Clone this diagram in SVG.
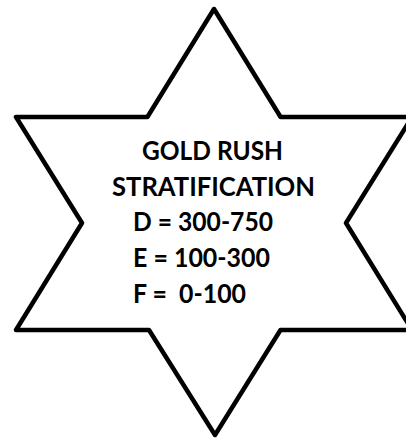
<svg xmlns="http://www.w3.org/2000/svg" width="406" height="439" viewBox="0 0 406 439">
<style>
.star{fill:#ffffff;stroke:#000000;stroke-width:4.5;stroke-linejoin:round}
.t{font-family:Lato,"Open Sans","Liberation Sans",sans-serif;font-weight:bold;font-size:26.5px;fill:#000000;white-space:pre}
</style>
<rect x="0" y="0" width="406" height="439" fill="#ffffff"/>
<g id="star">
<polygon class="star" points="214,9 280.6,117 412,117 346,223 412,330 280.5,330 215,435 149,330 16,330 82,223 16,117 147.4,117"/>
</g>
<g id="label">
<text class="t" x="142" y="160" textLength="141" lengthAdjust="spacingAndGlyphs">GOLD RUSH</text>
<text class="t" x="112" y="196" textLength="203" lengthAdjust="spacingAndGlyphs">STRATIFICATION</text>
<text class="t" x="133" y="231" textLength="140" lengthAdjust="spacingAndGlyphs">D = 300-750</text>
<text class="t" x="133" y="267" textLength="137" lengthAdjust="spacingAndGlyphs">E = 100-300</text>
<text class="t" x="133" y="303" textLength="113" lengthAdjust="spacingAndGlyphs" xml:space="preserve">F =  0-100</text>
</g>
<g id="connectors"/>
</svg>
